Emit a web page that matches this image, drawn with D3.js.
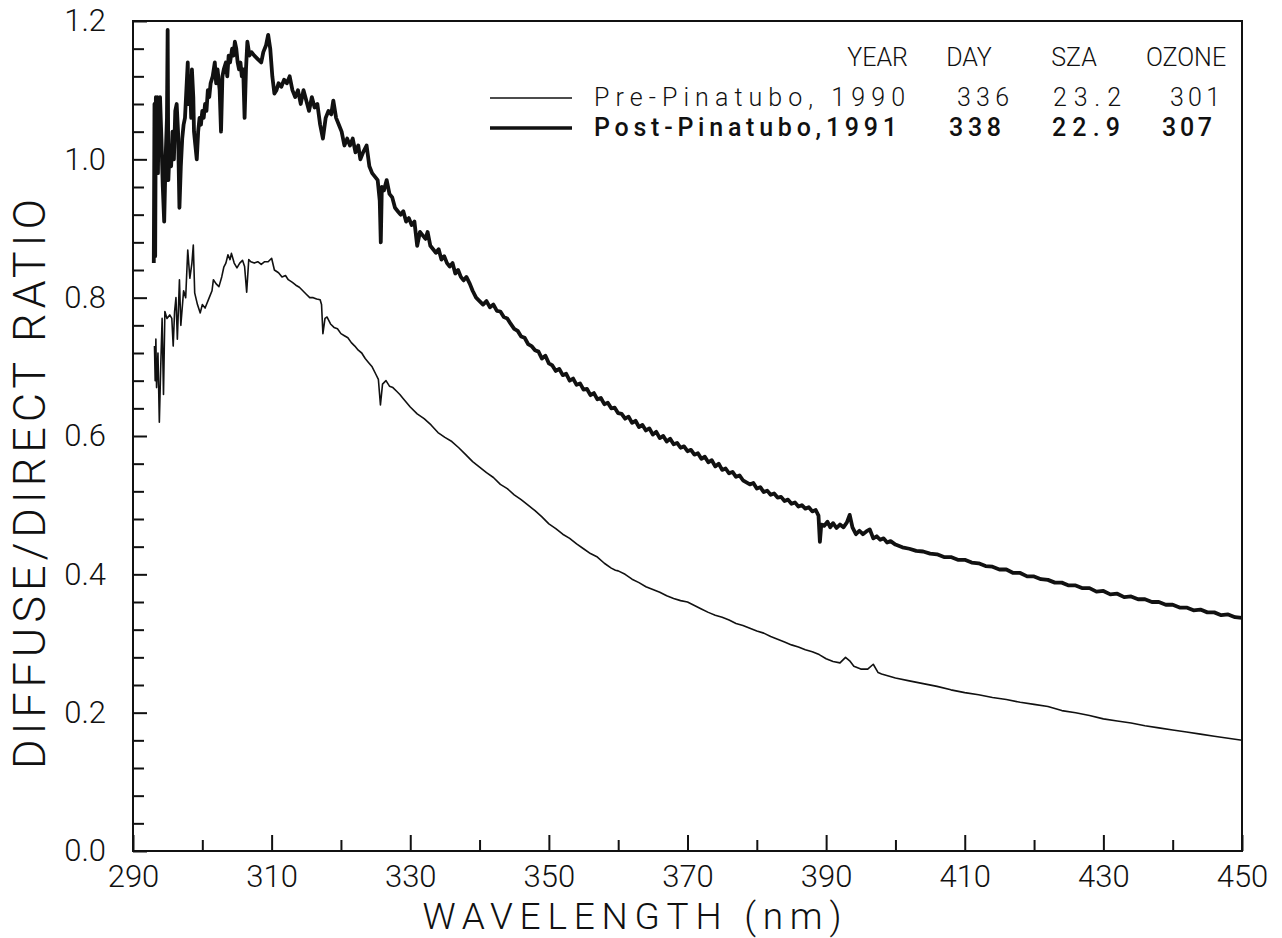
<!DOCTYPE html>
<html>
<head>
<meta charset="utf-8">
<script src="https://cdn.jsdelivr.net/npm/d3@7"></script>
<style>
  html, body { margin: 0; padding: 0; background: #fff; }
  text { font-family: "Roboto", "DejaVu Sans", sans-serif; font-weight: 300; fill: #111; }
</style>
</head>
<body>
<div id="chart"></div>
<script>
// wavelength (nm), diffuse/direct ratio
var postPinatubo = [
  [293.0,0.85],[293.1,1.08],[293.2,0.86],[293.3,1.09],[293.4,1.02],[293.5,1.09],[293.6,0.98],[293.7,1.07],
  [293.8,1.01],[293.9,1.09],[294.1,1.03],[294.3,0.96],[294.5,0.91],[294.7,1.00],[294.9,1.06],[295.0,1.187],
  [295.1,0.97],[295.3,1.02],[295.5,0.99],[295.7,1.04],[295.9,1.00],[296.1,1.07],[296.3,1.08],[296.5,1.04],
  [296.7,0.93],[296.9,0.99],[297.1,1.03],[297.3,1.05],[297.5,1.06],[297.7,1.10],[297.9,1.14],[298.0,1.08],
  [298.2,1.12],[298.4,1.06],[298.5,1.13],[298.7,1.09],[298.8,1.04],[299.0,1.02],[299.2,1.00],[299.4,1.04],
  [299.6,1.06],[299.8,1.05],[300.0,1.07],[300.2,1.06],[300.4,1.08],[300.6,1.07],[300.8,1.10],[301.0,1.09],
  [301.2,1.11],[301.5,1.12],[301.8,1.14],[302.0,1.11],[302.2,1.13],[302.5,1.10],[302.7,1.04],[302.9,1.12],
  [303.1,1.13],[303.4,1.14],[303.6,1.12],[303.8,1.15],[304.0,1.14],[304.3,1.16],[304.5,1.15],[304.7,1.17],
  [304.9,1.16],[305.1,1.14],[305.3,1.13],[305.5,1.14],[305.7,1.12],[305.9,1.13],[306.1,1.06],[306.3,1.13],
  [306.5,1.17],[306.8,1.15],[307.1,1.155],[307.5,1.15],[308.0,1.145],[308.5,1.14],[308.8,1.155],[309.2,1.165],
  [309.5,1.18],[309.8,1.16],[310.1,1.12],[310.4,1.095],[310.7,1.10],[311.0,1.11],[311.4,1.105],[311.8,1.115],
  [312.2,1.11],[312.6,1.12],[313.0,1.10],[313.4,1.09],[313.8,1.10],[314.2,1.08],[314.6,1.10],[315.0,1.085],
  [315.4,1.07],[315.8,1.09],[316.2,1.075],[316.6,1.08],[317.0,1.05],[317.4,1.03],[317.8,1.06],[318.2,1.07],
  [318.6,1.065],[318.9,1.085],[319.3,1.06],[319.7,1.05],[320.1,1.04],[320.5,1.02],[320.9,1.03],[321.3,1.02],
  [321.7,1.03],[322.1,1.01],[322.5,1.02],[322.8,1.00],[323.2,1.01],[323.7,1.02],[324.1,0.99],[324.5,0.98],
  [324.9,0.975],[325.3,0.97],[325.6,0.94],[325.75,0.88],[325.9,0.96],[326.2,0.955],[326.6,0.97],[327.0,0.95],
  [327.4,0.945],[327.8,0.93],[328.2,0.925],[328.6,0.92],[329.0,0.925],[329.4,0.91],[329.8,0.915],[330.2,0.905],
  [330.6,0.91],[331.0,0.875],[331.4,0.895],[331.8,0.89],[332.2,0.885],[332.5,0.895],[332.9,0.875],[333.3,0.87],
  [333.7,0.865],[334.1,0.87],[334.5,0.855],[334.9,0.86],[335.3,0.85],[335.7,0.845],[336.1,0.85],[336.5,0.835],
  [336.9,0.84],[337.3,0.83],[337.7,0.825],[338.1,0.83],[338.6,0.82],[339.0,0.81],[339.5,0.80],[340.0,0.795],
  [340.5,0.79],[341.0,0.795],[341.5,0.786],[342.0,0.79],[342.5,0.781],[343.0,0.78],[343.5,0.772],[344.0,0.77],
  [344.5,0.762],[345.0,0.755],[345.5,0.752],[346.0,0.744],[346.5,0.742],[347.0,0.733],[347.5,0.730],[348.0,0.724],
  [348.5,0.722],[349.0,0.712],[349.5,0.716],[350.0,0.705],[350.5,0.702],[351.0,0.694],[351.5,0.697],[352.0,0.688],
  [352.5,0.690],[353.0,0.680],[353.5,0.683],[354.0,0.674],[354.5,0.676],[355.0,0.667],[355.5,0.668],[356.0,0.659],
  [356.5,0.662],[357.0,0.653],[357.5,0.655],[358.0,0.646],[358.5,0.648],[359.0,0.640],[359.5,0.641],[360.0,0.633],
  [360.5,0.632],[361.0,0.625],[361.5,0.628],[362.0,0.619],[362.5,0.622],[363.0,0.613],[363.5,0.616],[364.0,0.608],
  [364.5,0.611],[365.0,0.602],[365.5,0.606],[366.0,0.597],[366.5,0.600],[367.0,0.592],[367.5,0.596],[368.0,0.588],
  [368.5,0.590],[369.0,0.583],[369.5,0.585],[370.0,0.578],[370.5,0.580],[371.0,0.573],[371.5,0.575],[372.0,0.567],
  [372.5,0.570],[373.0,0.562],[373.5,0.565],[374.0,0.556],[374.5,0.560],[375.0,0.551],[375.5,0.553],[376.0,0.546],
  [376.5,0.548],[377.0,0.541],[377.5,0.543],[378.0,0.536],[378.5,0.533],[379.0,0.530],[379.5,0.532],[380.0,0.524],
  [380.5,0.526],[381.0,0.519],[381.5,0.521],[382.0,0.515],[382.5,0.517],[383.0,0.511],[383.5,0.512],[384.0,0.506],
  [384.5,0.508],[385.0,0.502],[385.5,0.504],[386.0,0.498],[386.5,0.500],[387.0,0.495],[387.5,0.497],[388.0,0.491],
  [388.5,0.493],[388.9,0.485],[389.1,0.447],[389.3,0.472],[389.7,0.470],[390.2,0.476],[390.6,0.468],[391.0,0.474],
  [391.5,0.467],[392.0,0.472],[392.5,0.468],[393.0,0.475],[393.4,0.486],[393.8,0.468],[394.3,0.458],[394.8,0.463],
  [395.3,0.458],[395.8,0.462],[396.3,0.465],[396.8,0.452],[397.3,0.455],[397.8,0.450],[398.3,0.452],[398.8,0.446],
  [399.3,0.448],[400,0.443],[401,0.439],[402,0.437],[403,0.434],[404,0.433],[405,0.430],[406,0.429],[407,0.425],
  [408,0.425],[409,0.421],[410,0.421],[411,0.417],[412,0.416],[413,0.412],[414,0.411],[415,0.407],[416,0.407],
  [417,0.402],[418,0.402],[419,0.397],[420,0.397],[421,0.393],[422,0.392],[423,0.388],[424,0.388],[425,0.384],
  [426,0.384],[427,0.380],[428,0.380],[429,0.375],[430,0.376],[431,0.371],[432,0.372],[433,0.367],[434,0.368],
  [435,0.364],[436,0.364],[437,0.360],[438,0.360],[439,0.356],[440,0.356],[441,0.352],[442,0.352],[443,0.348],
  [444,0.349],[445,0.345],[446,0.345],[447,0.341],[448,0.342],[449,0.338],[450,0.337]
];

var prePinatubo = [
  [293.1,0.73],[293.2,0.68],[293.3,0.74],[293.4,0.67],[293.6,0.72],[293.8,0.62],[294.0,0.70],[294.2,0.77],
  [294.4,0.66],[294.6,0.78],[294.9,0.77],[295.3,0.775],[295.6,0.77],[295.8,0.73],[296.0,0.78],[296.2,0.80],
  [296.4,0.74],[296.7,0.826],[296.9,0.76],[297.3,0.81],[297.6,0.80],[297.9,0.869],[298.2,0.828],[298.5,0.85],
  [298.7,0.876],[298.9,0.807],[299.3,0.79],[299.7,0.778],[300.0,0.79],[300.4,0.785],[301.0,0.80],[301.4,0.81],
  [301.6,0.826],[302.0,0.82],[302.4,0.816],[302.8,0.83],[303.1,0.844],[303.4,0.85],[303.7,0.862],[304.0,0.855],
  [304.2,0.864],[304.6,0.85],[305.0,0.843],[305.4,0.85],[305.8,0.854],[306.1,0.845],[306.4,0.808],[306.7,0.855],
  [307.0,0.852],[307.5,0.85],[308.0,0.852],[308.5,0.848],[309.0,0.852],[309.5,0.852],[310.0,0.857],[310.4,0.84],
  [311.0,0.836],[311.5,0.83],[312.0,0.832],[312.4,0.826],[313.0,0.822],[313.5,0.818],[314.0,0.815],[314.5,0.81],
  [315.0,0.805],[315.5,0.80],[316.0,0.80],[316.5,0.798],[317.0,0.797],[317.2,0.79],[317.4,0.748],[317.7,0.77],
  [318.0,0.772],[318.5,0.762],[319.0,0.757],[319.5,0.755],[320.0,0.748],[320.5,0.745],[321.0,0.742],[321.5,0.735],
  [322.0,0.73],[322.5,0.724],[323.0,0.72],[323.5,0.712],[324.0,0.706],[324.5,0.70],[325.0,0.69],[325.4,0.682],
  [325.7,0.645],[326.0,0.675],[326.5,0.68],[327.0,0.672],[327.5,0.67],[328.0,0.665],[328.5,0.66],[329.0,0.654],
  [330.0,0.642],[331.0,0.632],[332.0,0.625],[333.0,0.616],[334.0,0.605],[335.0,0.598],[336.0,0.592],[337.0,0.583],
  [338.0,0.573],[339.0,0.563],[340.0,0.555],[341.0,0.547],[342.0,0.540],[343.0,0.530],[344.0,0.524],[345.0,0.515],
  [346.0,0.508],[347.0,0.500],[348.0,0.492],[349.0,0.483],[350.0,0.473],[351.0,0.466],[352.0,0.458],[353.0,0.452],
  [354.0,0.444],[355.0,0.437],[356.0,0.430],[357.0,0.425],[358.0,0.416],[359.0,0.409],[359.6,0.406],[360.0,0.405],
  [361.0,0.400],[362.0,0.393],[363.0,0.388],[364.0,0.382],[365.0,0.378],[366.0,0.374],[367.0,0.369],[368.0,0.365],
  [369.0,0.362],[370.0,0.360],[371.0,0.355],[372.0,0.350],[373.0,0.345],[374.0,0.341],[375.0,0.338],[376.0,0.334],
  [377.0,0.329],[378.0,0.326],[379.0,0.322],[380.0,0.318],[381.0,0.315],[382.0,0.310],[383.0,0.306],[384.0,0.302],
  [385.0,0.298],[386.0,0.295],[387.0,0.291],[388.0,0.288],[389.0,0.284],[390.0,0.278],[391.0,0.274],[392.0,0.272],
  [392.8,0.280],[393.4,0.275],[394.0,0.267],[395.0,0.263],[396.0,0.263],[396.8,0.270],[397.5,0.258],[398.0,0.256],
  [399.0,0.253],[400.0,0.250],[402.0,0.246],[404.0,0.242],[406.0,0.238],[408.0,0.233],[410.0,0.229],[412.0,0.226],
  [414.0,0.222],[416.0,0.219],[418.0,0.215],[420.0,0.212],[422.0,0.209],[424.0,0.203],[426.0,0.200],[428.0,0.196],
  [430.0,0.191],[432.0,0.188],[434.0,0.185],[436.0,0.181],[438.0,0.178],[440.0,0.175],[442.0,0.172],[444.0,0.169],
  [446.0,0.166],[448.0,0.163],[450.0,0.160]
];

var xMajorTicks = [290, 310, 330, 350, 370, 390, 410, 430, 450];
var xMinorTicks = [300, 320, 340, 360, 380, 400, 420, 440];
var yMajorTicks = [0.0, 0.2, 0.4, 0.6, 0.8, 1.0, 1.2];
var yMinorTicks = [0.04, 0.08, 0.12, 0.16, 0.24, 0.28, 0.32, 0.36, 0.44, 0.48, 0.52, 0.56,
                   0.64, 0.68, 0.72, 0.76, 0.84, 0.88, 0.92, 0.96, 1.04, 1.08, 1.12, 1.16];

var legendHeaders = ["YEAR", "DAY", "SZA", "OZONE"];
var legendLabels = ["Pre-Pinatubo, 1990", "Post-Pinatubo,1991"];
var legendDay = ["336", "338"];
var legendSza = ["23.2", "22.9"];
var legendOzone = ["301", "307"];

var W = 1282, H = 938;
var plotL = 133, plotR = 1242, plotT = 21, plotB = 851;

var svg = d3.select("#chart").append("svg")
  .attr("width", W)
  .attr("height", H);

var x = d3.scaleLinear().domain([290, 450]).range([plotL, plotR]);
var y = d3.scaleLinear().domain([0, 1.2]).range([plotB, plotT]);

// frame
svg.append("rect")
  .attr("x", plotL).attr("y", plotT)
  .attr("width", plotR - plotL).attr("height", plotB - plotT)
  .attr("fill", "none").attr("stroke", "#111").attr("stroke-width", 2);

function styleAxis(g){
  g.select(".domain").remove();
  g.selectAll(".tick line").attr("stroke", "#111").attr("stroke-width", 2);
  g.selectAll(".tick text").attr("font-size", 31).attr("fill", "#111");
}

// ticks point inward
svg.append("g")
  .attr("transform", "translate(0," + plotB + ")")
  .call(d3.axisBottom(x).tickValues(xMinorTicks).tickSize(-11).tickFormat(""))
  .call(styleAxis);

svg.append("g")
  .attr("transform", "translate(0," + plotB + ")")
  .call(d3.axisBottom(x).tickValues(xMajorTicks).tickSize(-16).tickPadding(14).tickFormat(d3.format("d")))
  .call(styleAxis);

svg.append("g")
  .attr("transform", "translate(" + plotL + ",0)")
  .call(d3.axisLeft(y).tickValues(yMinorTicks).tickSize(-11).tickFormat(""))
  .call(styleAxis);

svg.append("g")
  .attr("transform", "translate(" + plotL + ",0)")
  .call(d3.axisLeft(y).tickValues(yMajorTicks).tickSize(-14).tickPadding(27).tickFormat(d3.format(".1f")))
  .call(styleAxis);

// axis titles
svg.append("text")
  .attr("x", 632).attr("y", 929)
  .attr("text-anchor", "middle")
  .attr("font-size", 37)
  .attr("textLength", 419).attr("lengthAdjust", "spacing")
  .text("WAVELENGTH (nm)");

svg.append("text")
  .attr("transform", "translate(45,484) rotate(-90)")
  .attr("text-anchor", "middle")
  .attr("font-size", 45)
  .attr("textLength", 570).attr("lengthAdjust", "spacing")
  .text("DIFFUSE/DIRECT RATIO");

// curves
var line = d3.line()
  .x(function(d){ return x(d[0]); })
  .y(function(d){ return y(d[1]); });

svg.append("path")
  .datum(prePinatubo)
  .attr("d", line)
  .attr("fill", "none").attr("stroke", "#111")
  .attr("stroke-width", 1.6).attr("stroke-linejoin", "round");

svg.append("path")
  .datum(postPinatubo)
  .attr("d", line)
  .attr("fill", "none").attr("stroke", "#111")
  .attr("stroke-width", 3.8).attr("stroke-linejoin", "round");

// legend
var headerX = [908, 969, 1074, 1186];
var headerAnchor = ["end", "middle", "middle", "middle"];
legendHeaders.forEach(function(h, i){
  svg.append("text")
    .attr("x", headerX[i]).attr("y", 66)
    .attr("text-anchor", headerAnchor[i])
    .attr("font-size", 25)
    .text(h);
});

var rowY = [106, 136];
var lineY = [98, 128];
var lineW = [1.6, 3.4];
var weights = [300, 500];
var labelW = [311, 303];
var dayX = [983, 975], szaX = [1087, 1086], ozX = [1195, 1187];

legendLabels.forEach(function(lab, i){
  svg.append("line")
    .attr("x1", 490).attr("x2", 572)
    .attr("y1", lineY[i]).attr("y2", lineY[i])
    .attr("stroke", "#111").attr("stroke-width", lineW[i]);

  var fw = weights[i];
  svg.append("text")
    .attr("x", 594).attr("y", rowY[i])
    .attr("font-size", 25).style("font-weight", fw)
    .attr("textLength", labelW[i]).attr("lengthAdjust", "spacing")
    .text(lab);
  svg.append("text")
    .attr("x", dayX[i]).attr("y", rowY[i]).attr("text-anchor", "middle")
    .attr("font-size", 25).style("font-weight", fw)
    .attr("textLength", 52).attr("lengthAdjust", "spacing")
    .text(legendDay[i]);
  svg.append("text")
    .attr("x", szaX[i]).attr("y", rowY[i]).attr("text-anchor", "middle")
    .attr("font-size", 25).style("font-weight", fw)
    .attr("textLength", 68).attr("lengthAdjust", "spacing")
    .text(legendSza[i]);
  svg.append("text")
    .attr("x", ozX[i]).attr("y", rowY[i]).attr("text-anchor", "middle")
    .attr("font-size", 25).style("font-weight", fw)
    .attr("textLength", 50).attr("lengthAdjust", "spacing")
    .text(legendOzone[i]);
});
</script>
</body>
</html>
